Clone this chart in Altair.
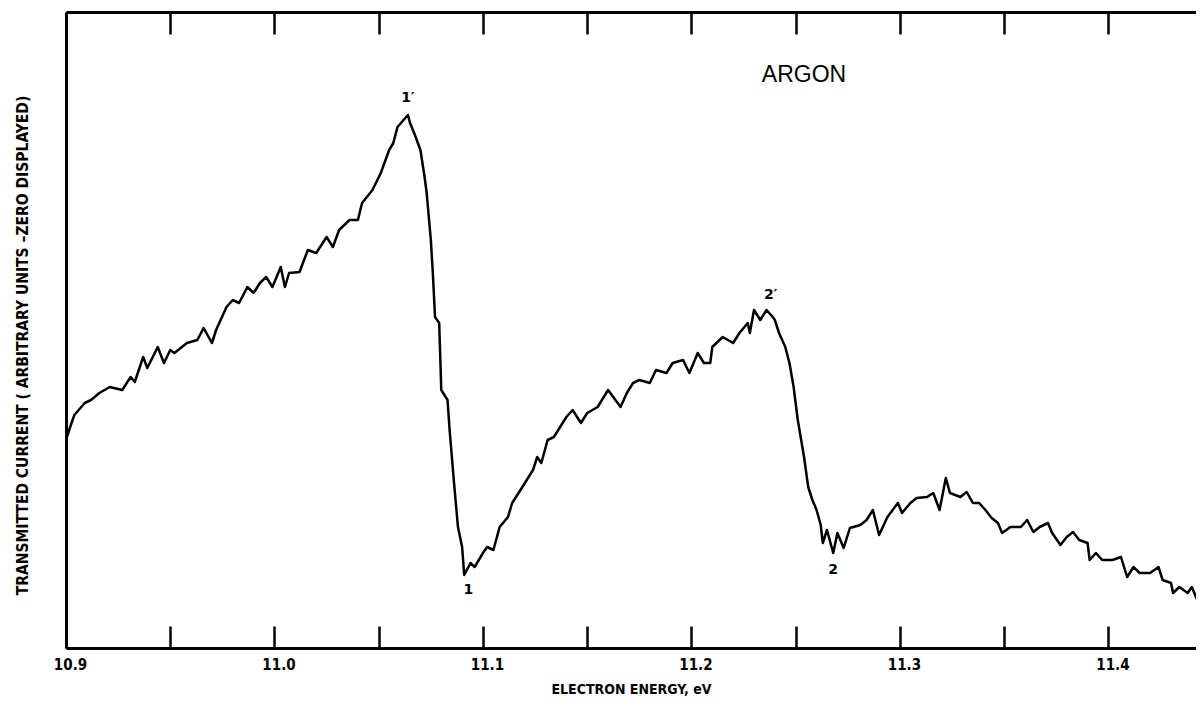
import altair as alt
import pandas as pd

# Electron energy (eV) and transmitted current (arbitrary units)
energy = [
    10.900, 10.902, 10.904, 10.909, 10.912, 10.916, 10.921, 10.927, 10.931, 10.933,
    10.937, 10.939, 10.944, 10.947, 10.950, 10.952, 10.958, 10.963, 10.966, 10.970,
    10.972, 10.977, 10.980, 10.983, 10.987, 10.990, 10.993, 10.996, 10.999, 11.003,
    11.005, 11.007, 11.012, 11.016, 11.020, 11.025, 11.028, 11.031, 11.036, 11.040,
    11.042, 11.047, 11.051, 11.055, 11.057, 11.059, 11.064, 11.065, 11.067, 11.070,
    11.072, 11.073, 11.075, 11.076, 11.077, 11.079, 11.080, 11.083, 11.084, 11.086,
    11.088, 11.090, 11.091, 11.094, 11.096, 11.100, 11.102, 11.105, 11.108, 11.112,
    11.114, 11.118, 11.121, 11.124, 11.126, 11.128, 11.131, 11.134, 11.137, 11.140,
    11.143, 11.147, 11.150, 11.155, 11.160, 11.166, 11.169, 11.172, 11.175, 11.180,
    11.183, 11.188, 11.191, 11.196, 11.199, 11.203, 11.206, 11.209, 11.210, 11.215,
    11.220, 11.223, 11.227, 11.228, 11.230, 11.233, 11.236, 11.239, 11.240, 11.242,
    11.245, 11.247, 11.249, 11.251, 11.254, 11.256, 11.258, 11.260, 11.262, 11.263,
    11.265, 11.268, 11.270, 11.273, 11.276, 11.281, 11.284, 11.287, 11.290, 11.294,
    11.299, 11.301, 11.305, 11.308, 11.313, 11.316, 11.319, 11.322, 11.324, 11.329,
    11.332, 11.335, 11.338, 11.341, 11.344, 11.347, 11.349, 11.353, 11.358, 11.361,
    11.364, 11.367, 11.371, 11.373, 11.377, 11.380, 11.383, 11.386, 11.390, 11.391,
    11.394, 11.397, 11.402, 11.406, 11.409, 11.412, 11.415, 11.420, 11.424, 11.426,
    11.430, 11.431, 11.434, 11.438, 11.440, 11.442, 11.444, 11.446,
]
current = [
    20.8, 22.1, 23.3, 24.5, 24.8, 25.5, 26.1, 25.8, 27.1, 26.6,
    29.1, 28.0, 30.1, 28.5, 29.8, 29.5, 30.5, 30.8, 32.0, 30.5,
    31.8, 34.1, 34.8, 34.5, 36.1, 35.5, 36.5, 37.1, 36.1, 38.1,
    36.1, 37.5, 37.6, 39.8, 39.5, 41.1, 40.1, 41.8, 42.8, 42.8,
    44.5, 45.8, 47.5, 49.8, 50.5, 52.1, 53.3, 52.5, 51.5, 49.8,
    47.1, 45.5, 40.8, 37.3, 33.1, 32.5, 25.8, 24.8, 21.8, 16.8,
    12.1, 10.1, 7.3, 8.5, 8.1, 9.5, 10.1, 9.8, 12.1, 13.1,
    14.5, 15.8, 16.8, 17.8, 19.1, 18.5, 20.8, 21.1, 22.1, 23.1,
    23.8, 22.5, 23.5, 24.1, 25.8, 24.1, 25.5, 26.5, 26.8, 26.5,
    27.8, 27.5, 28.5, 28.8, 27.5, 29.5, 28.5, 28.5, 30.1, 31.1,
    30.5, 31.5, 32.5, 31.5, 33.8, 32.8, 33.8, 33.1, 32.8, 31.5,
    30.1, 28.5, 26.1, 22.8, 19.1, 16.1, 14.8, 13.8, 12.3, 10.5,
    11.8, 9.5, 11.5, 10.0, 12.0, 12.3, 12.8, 13.8, 11.3, 13.1,
    14.5, 13.5, 14.5, 15.0, 15.1, 15.5, 13.8, 17.0, 15.5, 15.1,
    15.6, 14.5, 14.5, 13.8, 13.0, 12.5, 11.5, 12.1, 12.1, 12.8,
    11.6, 12.1, 12.5, 11.5, 10.3, 11.1, 11.6, 10.8, 10.5, 8.8,
    9.5, 8.8, 8.8, 9.1, 7.1, 8.1, 7.5, 7.5, 8.1, 6.8,
    6.5, 5.5, 6.1, 5.5, 6.1, 5.1, 4.1, 4.8,
]

# Point labels
ann_text = ["1\u2032", "1", "2\u2032", "2"]
ann_x = [11.064, 11.093, 11.238, 11.268]
ann_y = [55.0, 5.8, 35.3, 7.8]

gas_text = ["ARGON"]
gas_x = [11.254]
gas_y = [57.3]

major_ticks = [10.9, 11.0, 11.1, 11.2, 11.3, 11.4]
all_ticks = [10.9, 10.95, 11.0, 11.05, 11.1, 11.15, 11.2, 11.25, 11.3, 11.35, 11.4]

FONT = "DejaVu Sans Condensed"

df = pd.DataFrame({"energy": energy, "current": current})
ann = pd.DataFrame({"t": ann_text, "x": ann_x, "y": ann_y})
gas = pd.DataFrame({"t": gas_text, "x": gas_x, "y": gas_y})

xscale = alt.Scale(domain=[10.9, 11.442], nice=False, zero=False)
yscale = alt.Scale(domain=[0, 63.6], nice=False, zero=False)

yaxis = alt.Axis(
    title="TRANSMITTED CURRENT ( ARBITRARY UNITS \u2013ZERO DISPLAYED)",
    ticks=False, labels=False, grid=False,
    domain=True, domainWidth=3, domainColor="black",
    titleFont=FONT, titleFontSize=15.5, titleFontWeight="bold", titleColor="black",
    titleAngle=270, titleX=-44, titleY=333, titleAlign="center", titleBaseline="middle",
)

bottom_main = alt.Axis(
    orient="bottom", values=major_ticks, format=".1f",
    ticks=False, tickSize=0, grid=False,
    domain=True, domainWidth=3, domainColor="black",
    labelFont=FONT, labelFontSize=15, labelFontWeight="bold", labelColor="black",
    labelPadding=9, labelOffset=4, labelFlush=False,
    title="ELECTRON ENERGY, eV", titleFont=FONT, titleFontSize=14,
    titleFontWeight="bold", titleColor="black", titleY=34, titleBaseline="top",
)
bottom_ticks = alt.Axis(
    orient="bottom", offset=-22, values=all_ticks,
    ticks=True, tickSize=22, tickWidth=2.5, tickColor="black",
    labels=False, domain=False, grid=False, title=None,
)
top_domain = alt.Axis(
    orient="top", values=all_ticks, ticks=False, labels=False, grid=False,
    domain=True, domainWidth=3, domainColor="black", title=None,
)
top_ticks = alt.Axis(
    orient="top", offset=-22, values=all_ticks,
    ticks=True, tickSize=22, tickWidth=2.5, tickColor="black",
    labels=False, domain=False, grid=False, title=None,
)

def base_layer(axis, visible):
    mark = alt.Chart(df).mark_line(
        color="black", strokeWidth=2.5, strokeJoin="round", clip=True,
        opacity=1 if visible else 0,
    )
    return mark.encode(
        x=alt.X("energy:Q", scale=xscale, axis=axis),
        y=alt.Y("current:Q", scale=yscale, axis=yaxis),
    )

line = base_layer(bottom_main, True)
l2 = base_layer(bottom_ticks, False)
l3 = base_layer(top_domain, False)
l4 = base_layer(top_ticks, False)

ann_layer = alt.Chart(ann).mark_text(
    font="DejaVu Sans", fontSize=14, fontWeight="bold", color="black",
    align="center", baseline="middle",
).encode(
    x=alt.X("x:Q", scale=xscale, axis=None),
    y=alt.Y("y:Q", scale=yscale, axis=yaxis),
    text="t:N",
)

gas_layer = alt.Chart(gas).mark_text(
    font="Liberation Sans", fontSize=23, fontWeight="normal", color="black",
    align="center", baseline="middle",
).encode(
    x=alt.X("x:Q", scale=xscale, axis=None),
    y=alt.Y("y:Q", scale=yscale, axis=yaxis),
    text="t:N",
)

chart = alt.layer(line, l2, l3, l4, ann_layer, gas_layer).resolve_axis(
    x="independent"
).properties(
    width=1130, height=636,
    autosize=alt.AutoSizeParams(type="none"),
    padding={"left": 58, "top": 4, "right": 0, "bottom": 52},
    background="white",
).configure_view(stroke=None)

chart.save("out.html", embed_options={"renderer": "svg", "actions": False})
